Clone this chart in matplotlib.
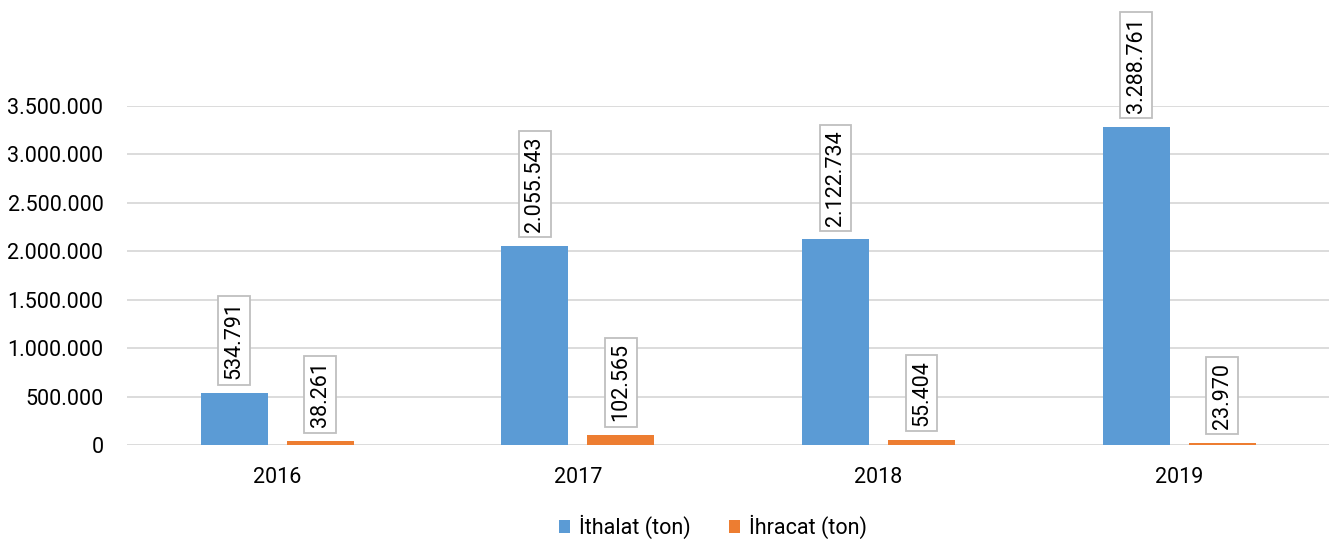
import numpy as np
import matplotlib
matplotlib.use('Agg')
import matplotlib.pyplot as plt
from matplotlib.ticker import FuncFormatter

years = ['2016', '2017', '2018', '2019']
ithalat = [534791, 2055543, 2122734, 3288761]
ihracat = [38261, 102565, 55404, 23970]
series_names = ['İthalat (ton)', 'İhracat (ton)']

blue = '#5B9BD5'
orange = '#ED7D31'

plt.rcParams['font.family'] = ['Roboto', 'DejaVu Sans']
fs = 15.5

fig = plt.figure(figsize=(13.3, 5.44), dpi=100)
ax = fig.add_axes([0.0955, 0.182, 0.904, 0.623])

x = np.arange(len(years))
w = 0.223
off = 0.143

b1 = ax.bar(x - off, ithalat, w, color=blue, label=series_names[0], zorder=2)
b2 = ax.bar(x + off, ihracat, w, color=orange, label=series_names[1], zorder=2)


def fmt(v):
    return '{:,}'.format(int(v)).replace(',', '.')


for bars, vals in ((b1, ithalat), (b2, ihracat)):
    for rect, v in zip(bars, vals):
        ax.annotate(fmt(v), (rect.get_x() + rect.get_width() / 2, v),
                    xytext=(0, 10), textcoords='offset points',
                    rotation=90, ha='center', va='bottom', fontsize=fs,
                    color='#000000', annotation_clip=False,
                    bbox=dict(boxstyle='square,pad=0.25', fc='white',
                              ec='#BFBFBF', lw=1.3))

ax.set_xlim(-0.5, 3.5)
ax.set_ylim(0, 3500000)
ax.set_yticks(np.arange(0, 3500001, 500000))
ax.yaxis.set_major_formatter(FuncFormatter(lambda v, p: fmt(v)))
ax.set_xticks(x)
ax.set_xticklabels(years)
ax.tick_params(axis='both', length=0, labelsize=fs, colors='#000000')
ax.tick_params(axis='y', pad=17)
ax.tick_params(axis='x', pad=16)
ax.grid(axis='y', color='#D9D9D9', lw=1.3, zorder=0)
for s in ax.spines.values():
    s.set_visible(False)

fig.legend(loc='center', bbox_to_anchor=(0.536, 0.031), ncol=2,
           frameon=False, fontsize=fs, handlelength=0.5, handleheight=0.5,
           handletextpad=0.4, columnspacing=1.8)

fig.savefig('out.png', dpi=100)
